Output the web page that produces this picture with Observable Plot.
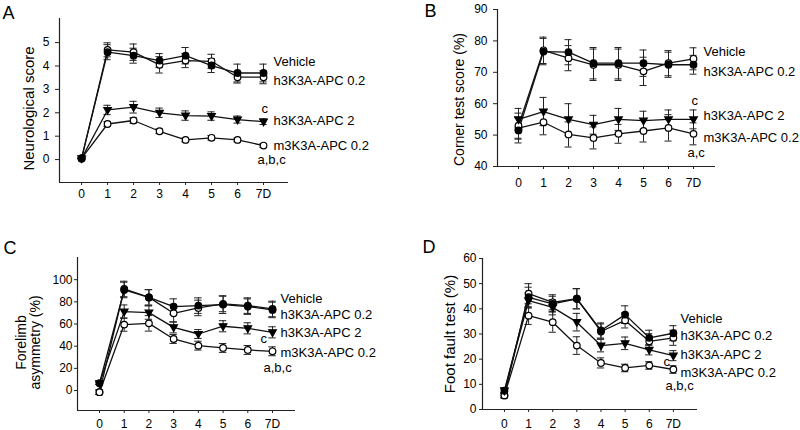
<!DOCTYPE html>
<html><head><meta charset="utf-8">
<script src="https://cdn.jsdelivr.net/npm/d3@7"></script>
<script src="https://cdn.jsdelivr.net/npm/@observablehq/plot@0.6"></script>
<style>
html,body{margin:0;padding:0;background:#fff;}
#chart{position:relative;width:800px;height:430px;overflow:hidden;background:#fff;}
.panel{position:absolute;width:400px;height:215px;}
</style></head><body><div id="chart"></div>
<script>
// ---------- data ----------
const days = [0, 1, 2, 3, 4, 5, 6, 7];
const dayLabels = ["0", "1", "2", "3", "4", "5", "6", "7D"];
const seriesNames = ["Vehicle", "h3K3A-APC 0.2", "h3K3A-APC 2", "m3K3A-APC 0.2"];

// A: Neurological score
const neuroVehicle = [0.05, 4.59, 4.44, 4.23, 4.44, 4.02, 3.70, 3.70];
const neuroH02     = [0.05, 4.69, 4.59, 4.05, 4.23, 4.20, 3.52, 3.52];
const neuroH2      = [0.05, 2.12, 2.24, 2.00, 1.88, 1.86, 1.71, 1.62];
const neuroM02     = [0.05, 1.52, 1.67, 1.21, 0.84, 0.93, 0.84, 0.60];
const neuroErrVehicle = [0, 0.32, 0.32, 0.30, 0.35, 0.30, 0.38, 0.38];
const neuroErrH02     = [0, 0.30, 0.35, 0.35, 0.30, 0.30, 0.25, 0.28];
const neuroErrH2      = [0, 0.20, 0.25, 0.20, 0.20, 0.18, 0.15, 0.12];
const neuroErrM02     = [0, 0.10, 0.12, 0.10, 0.08, 0.10, 0.08, 0.08];
const neuroTicks = [0, 1, 2, 3, 4, 5];
const neuroSig = ["c", "a,b,c"];

// B: Corner test score (%)
const cornerVehicle = [51.5, 76.6, 76.4, 72.9, 72.9, 72.9, 72.4, 72.4];
const cornerH02     = [53.0, 77.0, 74.5, 72.4, 72.4, 70.3, 72.9, 74.3];
const cornerH2      = [55.0, 57.5, 55.0, 53.3, 55.0, 54.6, 55.0, 55.0];
const cornerM02     = [52.2, 54.1, 50.2, 49.1, 50.4, 51.3, 52.3, 50.4];
const cornerErrVehicle = [4.0, 4.2, 4.0, 5.0, 5.0, 4.2, 4.0, 3.0];
const cornerErrH02     = [4.0, 4.2, 4.0, 5.0, 5.0, 4.5, 4.0, 3.5];
const cornerErrH2      = [3.5, 4.5, 5.0, 3.0, 3.5, 3.0, 3.0, 3.0];
const cornerErrM02     = [3.5, 4.0, 4.0, 3.5, 3.0, 3.5, 4.2, 3.5];
const cornerTicks = [40, 50, 60, 70, 80, 90];
const cornerSig = ["c", "a,c"];

// C: Forelimb asymmetry (%)
const foreVehicle = [6.6, 90.7, 84.0, 75.7, 76.6, 77.5, 75.7, 72.7];
const foreH02     = [-1.5, 91.6, 84.0, 69.7, 74.5, 78.1, 76.6, 73.6];
const foreH2      = [6.6, 71.2, 70.3, 57.0, 51.0, 58.0, 56.1, 52.5];
const foreM02     = [-1.5, 59.5, 60.6, 46.5, 40.5, 38.4, 36.6, 35.4];
const foreErrVehicle = [1, 7, 7, 7, 7, 8, 7, 7];
const foreErrH02     = [2, 7, 7, 8, 7, 7, 7, 7];
const foreErrH2      = [1, 6, 6, 5, 4, 5, 5, 5];
const foreErrM02     = [2, 6, 7, 4, 4, 4, 4, 4];
const foreTicks = [0, 20, 40, 60, 80, 100];
const foreSig = ["c", "a,b,c"];

// D: Foot fault test (%)
const footVehicle = [7.5, 44.6, 42.0, 44.0, 31.4, 37.7, 28.5, 30.3];
const footH02     = [5.6, 46.0, 42.6, 44.0, 31.0, 35.4, 27.1, 28.5];
const footH2      = [7.5, 43.3, 40.6, 34.7, 25.4, 26.3, 23.7, 21.4];
const footM02     = [5.6, 37.3, 34.7, 25.4, 18.5, 16.5, 17.5, 15.9];
const footErrVehicle = [1, 4, 3, 4, 3, 3.5, 3, 3];
const footErrH02     = [1, 4, 3, 4, 3, 3, 3, 3];
const footErrH2      = [1, 3, 3, 3.5, 2.5, 2.5, 2, 2];
const footErrM02     = [1, 3.5, 4, 3.5, 2, 1.5, 1.5, 1.5];
const footTicks = [0, 10, 20, 30, 40, 50, 60];
const footSig = ["c", "a,b,c"];

// ---------- drawing ----------
const FONT = "'Liberation Sans', Arial, Helvetica, sans-serif";

const triDown = {
  draw(ctx, size) {
    const r = Math.sqrt(size / Math.PI);
    ctx.moveTo(-r * 1.15, -r * 0.75);
    ctx.lineTo(r * 1.15, -r * 0.75);
    ctx.lineTo(0, r * 1.25);
    ctx.closePath();
  }
};
const markerStyle = [
  {fill: "black", symbol: "circle"},
  {fill: "white", symbol: "circle"},
  {fill: "black", symbol: triDown},
  {fill: "white", symbol: "circle"}
];

function rowsOf(values, errs) {
  return seriesNames.flatMap((s, i) =>
    days.map((d, j) => ({series: s, si: i, day: d, value: values[i][j], err: errs[i][j]})));
}

function panel(cfg) {
  const {ml, mr, mt, mb} = cfg;
  const rows = rowsOf(cfg.values, cfg.errs);
  const cap = cfg.cap;
  const pix = (text, x, y, opts = {}) => Plot.text([text], {
    text: d => d, frameAnchor: "top-left", dx: x - ml, dy: y - mt,
    fill: "black", fontSize: 13, textAnchor: "start", lineAnchor: "middle", ...opts
  });
  const marks = [
    Plot.ruleX([cfg.xDomain[0]], {stroke: "#222", strokeWidth: 1.2}),
    Plot.ruleY([cfg.yDomain[0]], {stroke: "#222", strokeWidth: 1.2}),
    Plot.axisX({ticks: days, tickSize: 3, tickPadding: cfg.xPad - 3, fontSize: 12, label: null,
      stroke: "#222", tickFormat: d => dayLabels[days.indexOf(d)]}),
    Plot.axisY({ticks: cfg.yTicks, tickSize: cfg.yTick, tickPadding: cfg.yPad, fontSize: 12,
      label: null, stroke: "#222", tickFormat: d => String(d)}),
    Plot.ruleX(rows, {x: "day", y1: d => d.value - d.err, y2: d => d.value + d.err, stroke: "#222", strokeWidth: 1}),
    Plot.ruleY(rows, {y: d => d.value + d.err, x1: d => d.day - cap, x2: d => d.day + cap, stroke: "#222", strokeWidth: 1}),
    Plot.ruleY(rows, {y: d => d.value - d.err, x1: d => d.day - cap, x2: d => d.day + cap, stroke: "#222", strokeWidth: 1}),
    Plot.line(rows, {x: "day", y: "value", z: "series", stroke: "#111", strokeWidth: 1.3}),
    ...[3, 1, 2, 0].map(i => Plot.dot(rows.filter(d => d.si === i), {
      x: "day", y: "value", r: 3.3, stroke: "black", strokeWidth: 1.2,
      fill: markerStyle[i].fill, symbol: markerStyle[i].symbol
    })),
    // panel letter
    pix(cfg.letter, cfg.letterPos[0], cfg.letterPos[1], {fontSize: 18}),
    // y axis title
    pix(cfg.yTitle, cfg.yTitlePos[0], cfg.yTitlePos[1], {fontSize: cfg.yTitleSize, rotate: -90, textAnchor: "middle", lineHeight: 1.0}),
    // series labels
    ...seriesNames.map((s, i) => pix(s, cfg.labelX, cfg.labelY[i])),
    pix(cfg.sig[0], cfg.sigPos[0][0], cfg.sigPos[0][1]),
    pix(cfg.sig[1], cfg.sigPos[1][0], cfg.sigPos[1][1])
  ];
  const svg = Plot.plot({
    width: 400, height: 215,
    marginLeft: ml, marginRight: mr, marginTop: mt, marginBottom: mb,
    x: {domain: cfg.xDomain},
    y: {domain: cfg.yDomain},
    style: {fontFamily: FONT, fontSize: "12px", color: "black", background: "transparent", overflow: "visible"},
    marks
  });
  const div = document.createElement("div");
  div.className = "panel";
  div.style.left = cfg.left + "px";
  div.style.top = cfg.top + "px";
  div.appendChild(svg);
  document.getElementById("chart").appendChild(div);
}

panel({
  left: 0, top: 0, ml: 59, mr: 112, mt: 18, mb: 33,
  xDomain: [-0.85, 7.96], yDomain: [-0.98, 6.03], cap: 0.14,
  values: [neuroVehicle, neuroH02, neuroH2, neuroM02],
  errs: [neuroErrVehicle, neuroErrH02, neuroErrH2, neuroErrM02],
  yTicks: neuroTicks, yTick: 4, yPad: 6, xPad: 7,
  letter: "A", letterPos: [2, 12.5],
  yTitle: "Neurological score", yTitlePos: [29, 108], yTitleSize: 15,
  labelX: 273, labelY: [61, 80, 120, 145],
  sig: neuroSig, sigPos: [[261, 108], [257, 159]]
});
panel({
  left: 400, top: 0, ml: 97, mr: 85, mt: 9, mb: 49,
  xDomain: [-0.84, 7.88], yDomain: [40, 90], cap: 0.14,
  values: [cornerVehicle, cornerH02, cornerH2, cornerM02],
  errs: [cornerErrVehicle, cornerErrH02, cornerErrH2, cornerErrM02],
  yTicks: cornerTicks, yTick: 4, yPad: 6, xPad: 12,
  letter: "B", letterPos: [24, 10.5],
  yTitle: "Corner test score (%)", yTitlePos: [59, 99], yTitleSize: 14,
  labelX: 303, labelY: [51, 71, 115, 137],
  sig: cornerSig, sigPos: [[291, 100], [287, 152]]
});
panel({
  left: 0, top: 215, ml: 77, mr: 105, mt: 42, mb: 20,
  xDomain: [-0.89, 7.93], yDomain: [-18, 120], cap: 0.15,
  values: [foreVehicle, foreH02, foreH2, foreM02],
  errs: [foreErrVehicle, foreErrH02, foreErrH2, foreErrM02],
  yTicks: foreTicks, yTick: 3, yPad: 2, xPad: 9,
  letter: "C", letterPos: [3, 32.5],
  yTitle: "Forelimb\nasymmetry (%)", yTitlePos: [28, 127], yTitleSize: 14,
  labelX: 280, labelY: [83, 99, 117, 137],
  sig: foreSig, sigPos: [[260, 123], [263, 152]]
});
panel({
  left: 400, top: 215, ml: 82, mr: 103, mt: 43, mb: 21,
  xDomain: [-0.91, 8.0], yDomain: [0, 60], cap: 0.15,
  values: [footVehicle, footH02, footH2, footM02],
  errs: [footErrVehicle, footErrH02, footErrH2, footErrM02],
  yTicks: footTicks, yTick: 3, yPad: 3, xPad: 10,
  letter: "D", letterPos: [22, 31.5],
  yTitle: "Foot fault test (%)", yTitlePos: [50, 118.5], yTitleSize: 15,
  labelX: 280, labelY: [103, 120, 139, 157],
  sig: footSig, sigPos: [[263, 146], [265, 170]]
});
</script></body></html>
